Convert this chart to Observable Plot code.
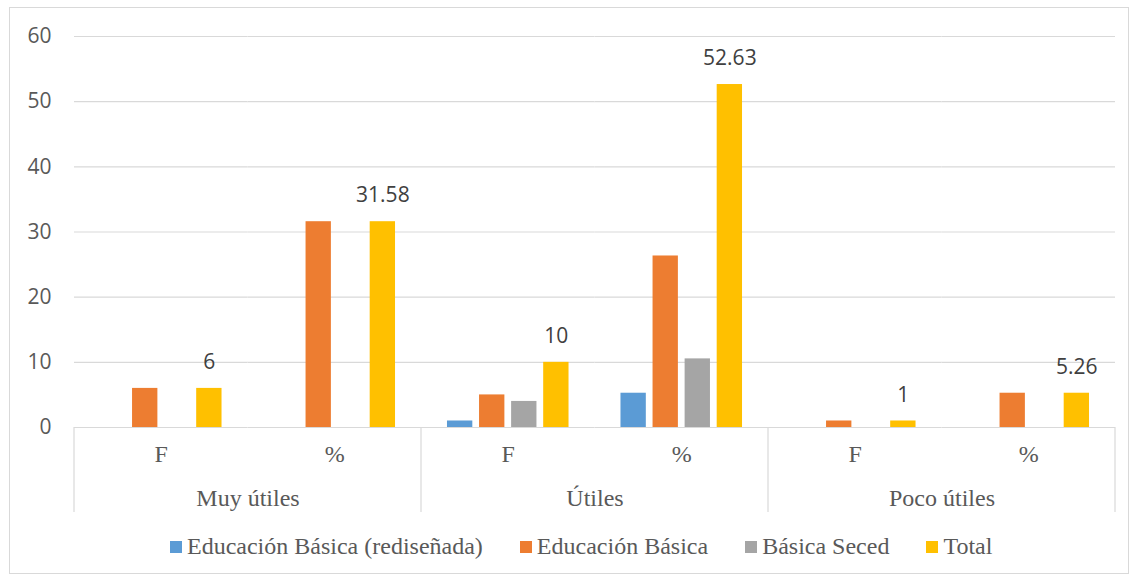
<!DOCTYPE html>
<html>
<head>
<meta charset="utf-8">
<script src="https://cdn.jsdelivr.net/npm/d3@7"></script>
<script src="https://cdn.jsdelivr.net/npm/@observablehq/plot@0.6"></script>
<style>
  html, body { margin: 0; padding: 0; background: #fff; }
  #wrap { position: relative; width: 1136px; height: 577px; overflow: hidden; }
  #border { position: absolute; left: 9px; top: 7px; width: 1120px; height: 567px; border: 1px solid #d9d9d9; box-sizing: border-box; }
  #chart { position: absolute; left: 0; top: 0; }
  #legend { position: absolute; left: 170px; top: 533px; display: flex; align-items: center;
            font-family: "Liberation Serif", "Times New Roman", serif; font-size: 24px; color: #595959; white-space: nowrap; }
  .item { display: flex; align-items: center; margin-right: 37px; }
  .sw { width: 12px; height: 12px; margin-right: 5px; display: inline-block; }
</style>
</head>
<body>
<div id="wrap">
  <div id="border"></div>
  <div id="chart"></div>
  <div id="legend"></div>
</div>
<script>
const groups = ["Muy útiles", "Útiles", "Poco útiles"];
const subs = ["F", "%"];
const series = ["Educación Básica (rediseñada)", "Educación Básica", "Básica Seced", "Total"];
const colors = ["#5B9BD5", "#ED7D31", "#A5A5A5", "#FFC000"];
// values per column: Muy útiles F, Muy útiles %, Útiles F, Útiles %, Poco útiles F, Poco útiles %
const redisenada = [0, 0, 1, 5.26, 0, 0];
const basica = [6, 31.58, 5, 26.32, 1, 5.26];
const seced = [0, 0, 4, 10.53, 0, 0];
const total = [6, 31.58, 10, 52.63, 1, 5.26];
const yTicks = [0, 10, 20, 30, 40, 50, 60];

const keys = [];
groups.forEach(g => subs.forEach(s => keys.push(g + "|" + s)));
const seriesValues = [redisenada, basica, seced, total];
const rows = [];
keys.forEach((k, i) => {
  series.forEach((s, j) => {
    rows.push({ key: k, series: s, value: seriesValues[j][i] });
  });
});
const barRows = rows.filter(d => d.value > 0);
const totalRows = rows.filter(d => d.series === "Total");

const serif = "Liberation Serif, Times New Roman, serif";
const labelColor = "#595959";

const chart = Plot.plot({
  width: 1136,
  height: 520,
  marginLeft: 74,
  marginRight: 21,
  marginTop: 36,
  marginBottom: 93,
  fx: { domain: keys, padding: 0, round: false, axis: null },
  x: { domain: series, paddingInner: 0.21, paddingOuter: 0.81, round: false, axis: null },
  y: { domain: [0, 60], axis: null },
  color: { domain: series, range: colors },
  style: { fontFamily: "Open Sans, sans-serif", fontSize: "21px", color: labelColor, background: "transparent", overflow: "visible" },
  marks: [
    Plot.gridY(yTicks, { stroke: "#d9d9d9", strokeOpacity: 1, strokeWidth: 1.2 }),
    Plot.axisY(yTicks, { tickSize: 0, tickPadding: 23, fontSize: 21, fill: labelColor, label: null }),
    Plot.barY(barRows, { fx: "key", x: "series", y: "value", fill: "series" }),
    Plot.text(totalRows, { fx: "key", x: "series", y: "value", text: d => String(d.value), dy: -26, fontSize: 21, fill: "#404040" }),
    Plot.text(keys, { fx: d => d, text: d => d.split("|")[1], frameAnchor: "bottom", dy: 34, fontFamily: serif, fontSize: 24, fill: labelColor }),
    Plot.text(groups, { fx: g => g + "|%", text: g => g, frameAnchor: "bottom-left", textAnchor: "middle", dy: 78, fontFamily: serif, fontSize: 24, fill: labelColor })
  ]
});
document.getElementById("chart").appendChild(chart);

// group separator lines below the axis, positioned with Plot's own scales
const fx = chart.scale("fx");
const y = chart.scale("y");
const svg = d3.select(chart);
const y0 = y.apply(0);
const bounds = groups.map(g => fx.apply(g + "|F"));
bounds.push(fx.apply(groups[groups.length - 1] + "|%") + fx.bandwidth);
svg.append("g").selectAll("line").data(bounds).join("line")
  .attr("x1", d => d).attr("x2", d => d)
  .attr("y1", y0).attr("y2", y0 + 85)
  .attr("stroke", "#d9d9d9").attr("stroke-width", 1.2);

// legend
const legend = d3.select("#legend");
series.forEach((s, i) => {
  const it = legend.append("div").attr("class", "item");
  it.append("span").attr("class", "sw").style("background", colors[i]);
  it.append("span").text(s);
});
</script>
</body>
</html>
